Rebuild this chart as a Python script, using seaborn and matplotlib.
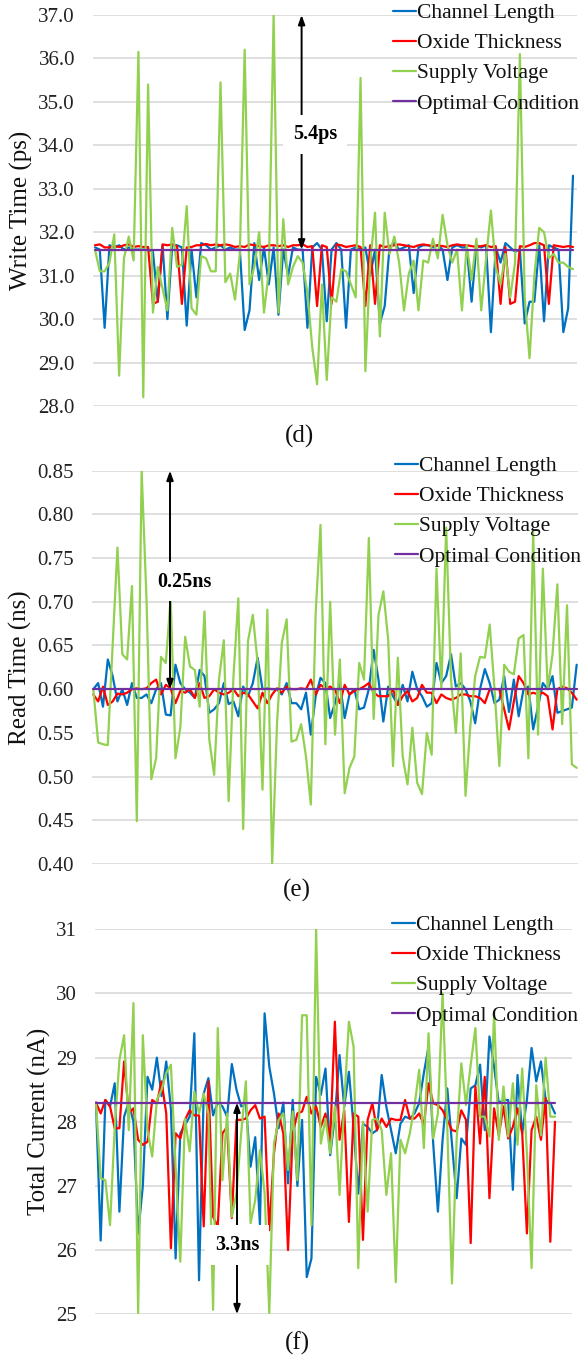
import numpy as np
import pandas as pd
import matplotlib
matplotlib.use("Agg")
import matplotlib.pyplot as plt
import matplotlib.transforms as mtransforms
import seaborn as sns

# ---------------- data ----------------
SERIES = ["Channel Length", "Oxide Thickness", "Supply Voltage", "Optimal Condition"]
COLORS = ["#0070C0", "#FF0000", "#92D050", "#7030A0"]

# (d) Write Time (ps)
CL_D = [31.65, 31.6, 29.8, 31.7, 31.65, 31.7, 31.6, 31.65, 31.6, 31.6,
        31.6, 31.6, 31.55, 30.4, 31.7, 30.0, 31.7, 31.7, 31.65, 29.85,
        31.6, 30.5, 31.75, 31.7, 31.6, 31.65, 31.7, 31.6, 31.65, 31.6,
        31.6, 29.75, 30.2, 31.75, 30.9, 31.65, 30.8, 31.65, 30.1, 31.6,
        31.0, 31.65, 31.6, 31.6, 29.8, 31.65, 31.75, 31.6, 29.95, 31.6,
        31.75, 31.6, 29.8, 31.6, 31.65, 31.6, 31.65, 31.0, 31.6, 29.9,
        30.3, 31.65, 31.75, 31.6, 31.65, 31.7, 30.6, 31.65, 31.7, 31.7,
        31.65, 31.7, 31.6, 30.9, 31.65, 31.7, 31.65, 31.65, 30.4, 31.7,
        31.65, 31.7, 29.7, 31.65, 31.3, 31.75, 31.65, 31.55, 31.6, 29.9,
        30.4, 30.4, 31.7, 29.95, 31.7, 31.65, 31.6, 29.7, 30.25, 33.3]
OT_D = [31.7, 31.72, 31.65, 31.65, 31.68, 31.66, 31.7, 31.72, 31.66, 31.68,
        31.66, 31.66, 30.35, 30.4, 31.72, 31.7, 31.72, 31.68, 30.35, 31.65,
        31.66, 31.7, 31.7, 31.73, 31.7, 31.72, 31.7, 31.72, 31.7, 31.66,
        31.68, 31.66, 31.72, 31.7, 31.68, 31.66, 31.7, 31.7, 31.68, 31.7,
        31.66, 31.7, 31.7, 31.72, 31.66, 31.68, 30.3, 31.7, 31.66, 30.35,
        31.72, 31.7, 31.66, 31.68, 31.7, 31.66, 30.3, 31.7, 30.35, 31.7,
        31.66, 31.68, 31.7, 31.72, 31.7, 31.68, 31.66, 31.7, 31.72, 31.7,
        31.68, 31.7, 31.68, 31.66, 31.7, 31.72, 31.7, 31.7, 31.68, 31.66,
        31.68, 31.7, 31.66, 31.68, 30.35, 31.66, 30.35, 30.4, 31.68, 31.66,
        31.7, 31.75, 31.75, 31.7, 30.35, 31.7, 31.68, 31.66, 31.68, 31.66]
SV_D = [31.6, 31.1, 31.1, 31.3, 31.95, 28.7, 31.4, 31.9, 31.35, 36.15,
        28.2, 35.4, 30.15, 31.2, 30.7, 30.2, 32.1, 31.2, 31.25, 32.6,
        30.25, 30.1, 31.45, 31.4, 31.1, 31.1, 35.45, 30.85, 31.05, 30.45,
        31.5, 36.2, 30.8, 31.2, 32.0, 30.15, 31.1, 37.0, 30.15, 32.3,
        30.8, 31.2, 31.45, 31.3, 30.6, 29.35, 28.5, 30.8, 28.6, 30.5,
        30.4, 31.15, 31.1, 30.8, 30.5, 35.55, 28.8, 31.3, 32.45, 29.6,
        32.45, 31.5, 31.9, 31.3, 30.2, 31.05, 31.35, 30.2, 31.35, 31.3,
        31.85, 31.4, 32.4, 31.7, 31.3, 31.6, 30.2, 31.7, 30.9, 31.85,
        30.2, 31.4, 32.5, 31.2, 30.8, 31.5, 30.5, 31.3, 36.1, 30.5,
        29.1, 31.0, 32.1, 32.0, 31.4, 31.5, 31.3, 31.3, 31.2, 31.15]
OPT_D = 31.6
YT_D = [28.0, 29.0, 30.0, 31.0, 32.0, 33.0, 34.0, 35.0, 36.0, 37.0]

# (e) Read Time (ns)
CL_E = [0.600, 0.607, 0.580, 0.634, 0.615, 0.586, 0.600, 0.582, 0.607, 0.590,
        0.590, 0.594, 0.584, 0.600, 0.607, 0.571, 0.570, 0.628, 0.607, 0.600,
        0.596, 0.590, 0.622, 0.615, 0.573, 0.577, 0.584, 0.607, 0.583, 0.586,
        0.569, 0.603, 0.592, 0.607, 0.636, 0.600, 0.601, 0.600, 0.600, 0.594,
        0.607, 0.584, 0.584, 0.577, 0.596, 0.548, 0.592, 0.613, 0.607, 0.567,
        0.584, 0.607, 0.567, 0.594, 0.600, 0.577, 0.579, 0.600, 0.645, 0.611,
        0.563, 0.603, 0.592, 0.582, 0.605, 0.586, 0.620, 0.600, 0.592, 0.580,
        0.584, 0.630, 0.607, 0.615, 0.640, 0.603, 0.607, 0.600, 0.586, 0.561,
        0.600, 0.623, 0.607, 0.584, 0.588, 0.615, 0.574, 0.611, 0.569, 0.600,
        0.603, 0.554, 0.580, 0.607, 0.600, 0.615, 0.573, 0.575, 0.577, 0.579,
        0.628]
OT_E = [0.594, 0.586, 0.603, 0.582, 0.586, 0.595, 0.594, 0.596, 0.600, 0.601,
        0.600, 0.601, 0.607, 0.611, 0.594, 0.605, 0.601, 0.584, 0.598, 0.596,
        0.600, 0.590, 0.607, 0.590, 0.592, 0.600, 0.596, 0.594, 0.596, 0.600,
        0.592, 0.596, 0.594, 0.586, 0.578, 0.596, 0.584, 0.594, 0.601, 0.596,
        0.603, 0.600, 0.600, 0.601, 0.600, 0.611, 0.594, 0.605, 0.601, 0.603,
        0.600, 0.584, 0.605, 0.594, 0.598, 0.600, 0.603, 0.607, 0.596, 0.592,
        0.592, 0.592, 0.600, 0.582, 0.592, 0.598, 0.586, 0.590, 0.605, 0.596,
        0.596, 0.584, 0.594, 0.590, 0.588, 0.590, 0.594, 0.594, 0.592, 0.592,
        0.590, 0.584, 0.600, 0.600, 0.600, 0.577, 0.554, 0.586, 0.615, 0.607,
        0.594, 0.596, 0.594, 0.596, 0.592, 0.554, 0.600, 0.603, 0.601, 0.596,
        0.588]
SV_E = [0.600, 0.539, 0.537, 0.536, 0.650, 0.762, 0.640, 0.634, 0.718, 0.449,
        0.850, 0.704, 0.497, 0.521, 0.637, 0.630, 0.704, 0.521, 0.556, 0.660,
        0.626, 0.622, 0.580, 0.689, 0.542, 0.502, 0.611, 0.656, 0.472, 0.615,
        0.704, 0.440, 0.655, 0.685, 0.630, 0.485, 0.691, 0.400, 0.560, 0.653,
        0.680, 0.540, 0.542, 0.560, 0.523, 0.468, 0.687, 0.788, 0.537, 0.700,
        0.548, 0.634, 0.481, 0.510, 0.523, 0.630, 0.611, 0.773, 0.566, 0.685,
        0.712, 0.657, 0.512, 0.636, 0.523, 0.491, 0.556, 0.493, 0.480, 0.550,
        0.525, 0.738, 0.600, 0.785, 0.611, 0.550, 0.641, 0.478, 0.558, 0.615,
        0.637, 0.636, 0.674, 0.600, 0.512, 0.628, 0.620, 0.617, 0.658, 0.662,
        0.521, 0.780, 0.548, 0.738, 0.600, 0.640, 0.720, 0.560, 0.696, 0.514,
        0.510]
OPT_E = 0.60
YT_E = [0.40, 0.45, 0.50, 0.55, 0.60, 0.65, 0.70, 0.75, 0.80, 0.85]

# (f) Total Current (nA)
CL_F = [28.30, 26.15, 28.34, 28.24, 28.60, 26.60, 28.08, 28.30, 28.00, 26.26,
        27.00, 28.70, 28.50, 29.00, 28.40, 28.94, 28.20, 25.87, 27.82, 27.95,
        28.08, 29.38, 25.53, 28.44, 28.68, 28.10, 28.30, 28.24, 28.08, 28.90,
        28.50, 28.24, 28.27, 27.30, 27.76, 26.40, 29.69, 28.86, 28.44, 27.90,
        28.30, 27.04, 28.34, 27.00, 28.03, 25.58, 25.87, 28.70, 28.42, 28.83,
        27.48, 28.08, 29.04, 28.23, 28.78, 27.92, 26.88, 27.97, 27.92, 27.82,
        27.87, 28.73, 28.23, 27.87, 27.51, 27.97, 28.08, 28.05, 28.13, 28.29,
        28.76, 29.17, 27.66, 26.60, 27.72, 28.52, 27.66, 26.81, 27.74, 27.64,
        28.52, 28.57, 28.89, 27.87, 29.33, 28.86, 28.29, 28.34, 28.34, 26.94,
        28.73, 27.82, 28.34, 29.15, 28.63, 28.94, 28.34, 28.29, 28.13]
OT_F = [28.30, 28.13, 28.34, 28.24, 27.90, 27.90, 28.94, 28.13, 28.21, 27.72,
        27.64, 27.69, 28.34, 28.29, 28.63, 28.13, 26.03, 27.82, 27.74, 28.03,
        28.18, 28.10, 28.10, 26.37, 28.63, 26.52, 26.37, 27.82, 27.92, 26.50,
        28.03, 28.03, 28.05, 28.18, 28.26, 28.05, 28.08, 26.31, 27.51, 28.13,
        27.82, 26.00, 27.82, 28.13, 28.16, 28.39, 28.13, 28.24, 27.92, 28.13,
        27.72, 29.56, 27.72, 28.18, 26.44, 28.13, 28.08, 26.16, 28.03, 28.29,
        27.87, 28.05, 27.92, 28.05, 28.03, 28.03, 28.34, 28.05, 28.05, 28.13,
        27.95, 28.60, 28.29, 28.26, 28.18, 28.03, 27.87, 27.85, 28.18, 28.03,
        26.11, 28.55, 27.66, 28.70, 26.81, 28.21, 27.79, 28.24, 27.74, 27.92,
        28.21, 27.82, 26.26, 27.87, 28.08, 27.72, 28.37, 26.13, 28.00]
SV_F = [28.29, 27.12, 27.09, 26.39, 27.90, 28.96, 29.35, 27.87, 29.85, 25.02,
        29.35, 27.87, 27.46, 28.34, 28.50, 28.76, 28.89, 27.30, 25.82, 28.05,
        27.54, 28.47, 28.13, 28.44, 28.13, 25.07, 29.46, 27.09, 28.13, 26.52,
        26.89, 27.82, 28.63, 26.42, 26.78, 27.56, 26.89, 25.02, 27.66, 28.03,
        28.13, 27.25, 28.16, 27.09, 29.66, 29.66, 26.39, 31.00, 27.66, 28.05,
        27.51, 28.24, 26.86, 28.29, 29.56, 29.17, 25.72, 28.00, 26.60, 28.03,
        28.05, 27.87, 26.86, 27.51, 25.50, 27.72, 27.51, 27.82, 28.24, 28.81,
        27.59, 29.38, 27.74, 28.13, 30.00, 27.92, 25.48, 27.72, 28.91, 28.26,
        28.89, 29.46, 28.08, 28.08, 27.77, 29.69, 27.72, 28.55, 27.77, 28.60,
        27.64, 28.83, 27.51, 25.72, 28.57, 27.79, 29.00, 28.08, 28.08]
OPT_F = 28.3
YT_F = [25, 26, 27, 28, 29, 30, 31]

# ---------------- style ----------------
sns.set_style("white")
plt.rcParams['font.family'] = ['Liberation Serif', 'DejaVu Serif']
plt.rcParams['axes.unicode_minus'] = False

W, H = 586, 1357
fig = plt.figure(figsize=(W / 100, H / 100), dpi=100)


def px_rect(l, r, t, b):
    return [l / W, 1 - b / H, (r - l) / W, (b - t) / H]


def build_df(cl, ot, sv, opt):
    n = max(len(cl), len(ot), len(sv))
    frames = []
    for name, vals in zip(SERIES, [cl, ot, sv, [opt] * n]):
        frames.append(pd.DataFrame({"idx": np.arange(len(vals)), "value": vals, "series": name}))
    return pd.concat(frames, ignore_index=True)


panels = [
    dict(data=(CL_D, OT_D, SV_D, OPT_D), rect=px_rect(93, 577, 15, 406), ylim=(28.0, 37.0),
         xlim=(-0.41, 99.83), yt=YT_D, fmt="{:.1f}", ylabel="Write Time (ps)",
         cap="(d)", cap_xy=(300, 436), leg_xy=(393, 3),
         arrow=dict(x=0.431, y0=31.6, y1=37.0, tx=0.459, ty=34.25, text="5.4ps")),
    dict(data=(CL_E, OT_E, SV_E, OPT_E), rect=px_rect(92, 578, 470.7, 864), ylim=(0.40, 0.85),
         xlim=(-0.27, 100.27), yt=YT_E, fmt="{:.2f}", ylabel="Read Time (ns)",
         cap="(e)", cap_xy=(297, 890), leg_xy=(395, 456),
         arrow=dict(x=0.1605, y0=0.60, y1=0.85, tx=0.191, ty=0.723, text="0.25ns")),
    dict(data=(CL_F, OT_F, SV_F, OPT_F), rect=px_rect(95, 572, 929.3, 1314.3), ylim=(25, 31),
         xlim=(-0.21, 101.63), yt=YT_F, fmt="{:d}", ylabel="Total Current (nA)",
         cap="(f)", cap_xy=(297, 1343), leg_xy=(392, 915),
         arrow=dict(x=0.2977, y0=28.3, y1=25.0, tx=0.2977, ty=26.08, text="3.3ns")),
]

for p in panels:
    ax = fig.add_axes(p["rect"])
    df = build_df(*p["data"])
    sns.lineplot(data=df, x="idx", y="value", hue="series", hue_order=SERIES,
                 palette=COLORS, estimator=None, sort=False, legend=False,
                 linewidth=1.6, ax=ax)
    ax.set_xlim(*p["xlim"])
    ax.set_ylim(*p["ylim"])
    ax.set_yticks(p["yt"])
    ax.set_yticklabels([p["fmt"].format(v) for v in p["yt"]], fontsize=15, color="#222222")
    ax.set_xticks([])
    ax.set_xlabel("")
    ax.set_ylabel(p["ylabel"], fontsize=18, color="#111111", labelpad=4)
    ax.tick_params(axis="y", length=0, pad=13)
    ax.grid(axis="y", color="#d9d9d9", linewidth=1.2)
    ax.set_axisbelow(True)
    for s in ax.spines.values():
        s.set_visible(False)

    # legend
    lines = ax.get_lines()[:4]
    lx, ly = p["leg_xy"]
    leg = ax.legend(handles=lines, labels=SERIES, loc="upper left",
                    bbox_to_anchor=(lx / W, 1 - ly / H), bbox_transform=fig.transFigure,
                    frameon=False, fontsize=15.5, handlelength=1.05, handletextpad=0.05,
                    labelspacing=0.47, borderpad=0, borderaxespad=0)
    for t in leg.get_texts():
        t.set_color("#111111")

    # dimension arrow
    a = p["arrow"]
    tr = mtransforms.blended_transform_factory(ax.transAxes, ax.transData)
    ax.annotate("", xy=(a["x"], a["y1"]), xytext=(a["x"], a["y0"]),
                xycoords=tr, textcoords=tr,
                arrowprops=dict(arrowstyle="<|-|>,head_length=0.55,head_width=0.2",
                                color="black", lw=1.4, shrinkA=0, shrinkB=0),
                zorder=6)
    ax.text(a["tx"], a["ty"], a["text"], transform=tr, ha="center", va="center",
            fontsize=14.5, fontweight="bold", color="black",
            bbox=dict(facecolor="white", edgecolor="none", pad=7), zorder=7)

    cx, cy = p["cap_xy"]
    fig.text(cx / W, 1 - cy / H, p["cap"], ha="center", va="center", fontsize=18, color="#111111")

fig.savefig("out.png", dpi=100)
